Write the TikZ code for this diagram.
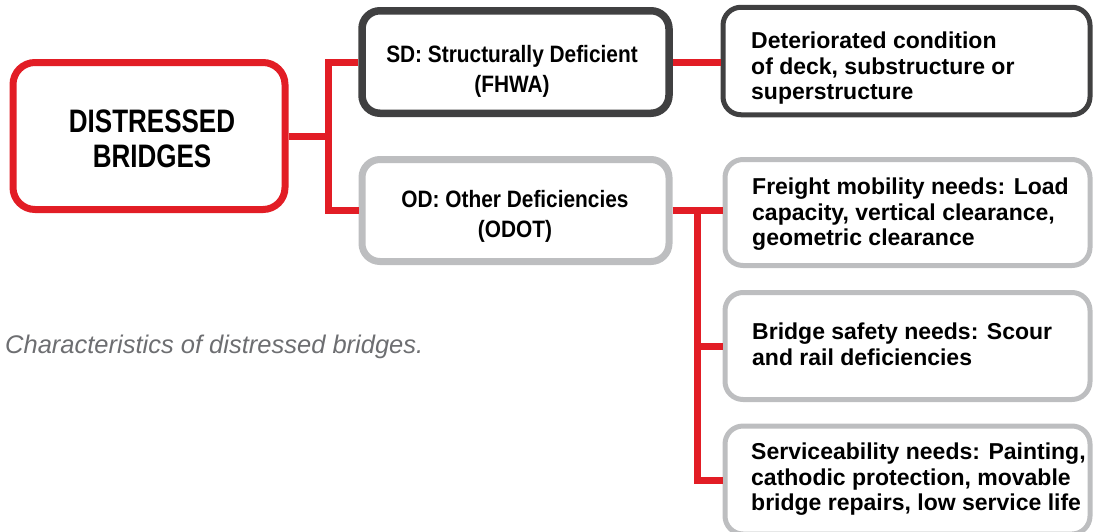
\documentclass[tikz,border=0pt]{standalone}
\usepackage{fontspec}
\setmainfont{Liberation Sans}
\newfontfamily\headcond{Liberation Sans}[FakeStretch=0.80]
\newfontfamily\subcond{Liberation Sans}[FakeStretch=0.88]
\definecolor{bred}{HTML}{E21D25}
\definecolor{dgray}{HTML}{404041}
\definecolor{lgray}{HTML}{BDBEC0}
\definecolor{capgray}{HTML}{6D6E71}
\begin{document}
\begin{tikzpicture}[x=1pt,y=-1pt,
  box/.style={draw, rectangle, rounded corners=18pt, fill=white, inner sep=0pt},
  conn/.style={draw=bred, line width=7pt},
  headtxt/.style={anchor=north, align=center, inner sep=0pt, font=\headcond\bfseries\fontsize{32.5}{35}\selectfont},
  subtxt/.style={anchor=north, align=center, inner sep=0pt, font=\subcond\bfseries\fontsize{23.7}{30.5}\selectfont},
  sidetxt/.style={anchor=north west, align=left, inner sep=0pt, font=\bfseries\fontsize{23}{25.5}\selectfont}]
\useasboundingbox (0,0) rectangle (1094,531);

% boxes
\node[box, line width=7pt, draw=bred, rounded corners=22pt, minimum width=272pt, minimum height=147pt] (main) at (149,136) {};
\node[box, line width=7.5pt, draw=dgray, minimum width=307pt, minimum height=102.5pt] (sd) at (515.5,62) {};
\node[box, line width=7pt, draw=lgray, minimum width=307pt, minimum height=102pt] (od) at (515.5,210.5) {};
\node[box, line width=5pt, draw=dgray, minimum width=367pt, minimum height=107.5pt] (det) at (906.5,61) {};
\node[box, line width=5pt, draw=lgray, minimum width=365pt, minimum height=106pt] (fr) at (907.5,212.5) {};
\node[box, line width=5pt, draw=lgray, minimum width=365pt, minimum height=107pt] (bs) at (907.5,346) {};
\node[box, line width=5pt, draw=lgray, minimum width=365pt, minimum height=108pt] (sv) at (907.5,480) {};

% texts
\node[headtxt] (maintxt) at (152,110) {DISTRESSED\\BRIDGES};
\node[subtxt] (sdtxt) at (512,45) {SD: Structurally Deficient\\(FHWA)};
\node[subtxt] (odtxt) at (515,190) {OD: Other Deficiencies\\(ODOT)};
\node[sidetxt] (dettxt) at (751,32) {Deteriorated condition\\of deck, substructure or\\superstructure};
\node[sidetxt] (frtxt) at (752,178) {Freight mobility needs: Load\\capacity, vertical clearance,\\geometric clearance};
\node[sidetxt] (bstxt) at (752,323) {Bridge safety needs: Scour\\and rail deficiencies};
\node[sidetxt] (svtxt) at (751,443) {Serviceability needs: Painting,\\cathodic protection, movable\\bridge repairs, low service life};
\node[anchor=base west, inner sep=0pt, text=capgray, font=\itshape\fontsize{25.5}{28}\selectfont] (cap) at (5,353) {Characteristics of distressed bridges.};

% connectors
\coordinate (busA) at (328.5,136);
\coordinate (busB) at (697.5,211);
\draw[conn] (main.east) -- (busA);
\draw[conn] (sd.west) -| (busA) |- (od.west);
\draw[conn] (sd.east) -- (sd.east -| det.west);
\draw[conn] (od.east) -- (od.east -| fr.west);
\draw[conn] (od.east -| busB) |- (sv.west);
\draw[conn] (bs.west -| busB) -- (bs.west);
\end{tikzpicture}
\end{document}
